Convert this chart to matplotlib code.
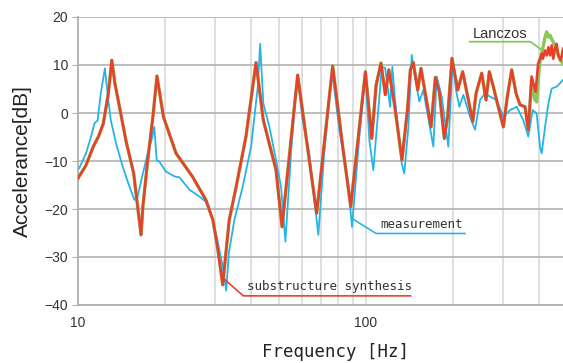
import matplotlib
matplotlib.use('agg')
import matplotlib.pyplot as plt
from matplotlib import font_manager
from matplotlib.ticker import FixedLocator, NullFormatter

# measured response
meas_f = [10.1, 10.66, 11.1, 11.4, 11.7, 12.0, 12.4, 12.7, 13.0, 13.55, 14.3, 15.1, 15.7, 16.1,
          16.8, 17.46, 18.07, 18.4, 18.76, 19.15, 20.2, 21.6, 22.5, 24.4, 26.4, 27.8, 29.4, 30.5,
          31.8, 32.7, 33.4, 34.9, 37.3, 39.9, 42.1, 42.9, 44.0, 46.2, 48.7, 50.7, 52.5, 54.9,
          57.1, 57.9, 60.3, 63.5, 68.3, 71.6, 76.2, 80.8, 86.4, 89.4, 94.8, 99.5, 102.7, 106.0,
          110.3, 113.4, 116.5, 121.2, 123.4, 126.1, 133.0, 135.8, 140.3, 144.1, 147.9, 153.1,
          158.1, 171.3, 176.0, 183.2, 193.1, 200.0, 205.3, 210.9, 217.8, 229.7, 239.0, 248.8,
          258.9, 269.6, 284.3, 299.7, 316.2, 333.6, 351.6, 366.0, 379.0, 391.3, 401.8, 407.4,
          418.4, 429.7, 441.4, 459.2, 471.6, 483.0]
meas_db = [-11.5, -8.4, -4.9, -2.2, -1.5, 4.1, 9.3, 3.4, -1.5, -6.3, -11.2, -15.4, -18.1, -17.4,
           -12.6, -8.4, -5.3, -2.9, -9.8, -10.1, -12.2, -13.2, -13.4, -16.0, -17.4, -18.5, -22.3,
           -26.5, -32.0, -37.0, -29.2, -22.3, -15.4, -7.0, 5.5, 14.4, 2.0, -2.9, -9.8, -15.4,
           -26.8, -8.4, 4.8, 7.6, -1.5, -8.4, -25.4, -8.4, 9.0, -3.5, -14.0, -23.7, -4.9, 8.3,
           -5.6, -11.9, 0.6, 9.6, 9.4, 1.3, 9.6, 2.7, -10.5, -12.6, -2.9, 12.1, 7.6, 2.4,
           4.8, -7.0, 7.6, 3.4, -7.0, 11.0, 4.8, 1.3, 3.8, -0.8, -3.5, 2.7,
           4.1, 3.4, 2.7, -0.8, 0.6, 1.3, -1.5, -4.9, 0.6, -0.1, -7.0, -8.4,
           -2.9, 2.0, 5.1, 5.5, 6.2, 6.9]

# substructure synthesis
syn_f = [10.0, 10.66, 11.3, 11.8, 12.24, 12.75, 13.1, 13.43, 14.0, 14.7, 15.6, 16.55,
         16.8, 17.46, 18.2, 18.8, 19.8, 21.9, 25.0, 27.8, 29.4, 30.5, 31.8, 33.5, 35.4, 38.3,
         41.5, 44.0, 48.7, 51.1, 57.9, 61.9, 67.4, 76.6, 83.0, 88.5, 99.5, 104.7, 108.4, 112.7,
         116.7, 120.0, 125.4, 133.3, 139.6, 142.5, 145.9, 151.2, 155.2, 168.2, 174.1, 179.7,
         187.0, 192.1, 198.8, 208.1, 216.6, 234.7, 241.0, 252.2, 261.0, 268.0, 276.7, 285.8,
         299.7, 309.5, 320.5, 331.8, 342.6, 356.5, 366.0, 375.8, 388.0, 396.0, 401.8, 407.4,
         411.0, 418.4, 424.0, 429.7, 435.6, 441.4, 447.0, 453.2, 459.0, 465.3, 475.3, 483.0]
syn_db = [-13.6, -10.9, -7.0, -4.8, -2.2, 4.1, 11.0, 6.2, 0.6, -6.0, -12.5, -25.4,
          -19.5, -9.8, -0.8, 7.7, -0.8, -8.4, -13.3, -18.1, -22.3, -27.9, -35.8, -22.3, -15.4, -4.9,
          10.5, -1.5, -11.9, -23.7, 7.9, -4.9, -20.9, 9.8, -7.0, -19.5, 8.6, -5.3, 5.8, 10.4,
          3.8, 9.0, 2.0, -9.8, 1.3, 9.0, 10.5, 4.8, 9.3, -2.9, 7.4, 4.4,
          -5.3, -0.8, 11.4, 4.8, 8.6, -1.8, 4.1, 8.3, 2.7, 8.6, 5.5, 2.0,
          -2.9, 3.4, 9.0, 4.1, 1.7, 1.3, -3.5, 7.6, 4.4, 10.3, 11.3, 12.4,
          11.3, 13.0, 12.0, 13.7, 12.0, 14.1, 11.3, 13.4, 14.4, 12.0, 11.0, 13.4]

# Lanczos
lan_f = syn_f[:syn_f.index(366.0) + 1] + [375.8, 384.0, 391.5, 399.9, 407.4, 418.4, 424.0,
                                          429.7, 435.6, 443.8, 453.2, 463.0, 471.6, 483.0]
lan_db = syn_db[:syn_f.index(366.0) + 1] + [7.0, 3.0, 2.3, 9.9, 12.4, 15.8, 16.9,
                                            15.8, 16.2, 15.1, 14.1, 12.4, 11.0, 10.3]

y_ticks = [-40, -30, -20, -10, 0, 10, 20]
y_labels = ['\u221240', '\u221230', '\u221220', '\u221210', '0', '10', '20']

names = {f.name for f in font_manager.fontManager.ttflist}
narrow = 'Liberation Sans Narrow' if 'Liberation Sans Narrow' in names else 'Liberation Sans'
mono = 'DejaVu Sans Mono'

fig = plt.figure(figsize=(5.63, 3.63), dpi=100)
ax = fig.add_axes([78 / 563, 1 - 305 / 363, 485 / 563, 288 / 363])

ax.plot(lan_f, lan_db, color='#8cc65a', lw=2.4, zorder=3)
ax.plot(meas_f, meas_db, color='#27b4e4', lw=1.3, zorder=4)
ax.plot(syn_f, syn_db, color='#e8402a', lw=1.9, zorder=5)

ax.set_xscale('log')
ax.set_xlim(10, 483)
ax.set_ylim(-40, 20)
ax.set_yticks(y_ticks)
ax.set_yticklabels(y_labels, family=narrow, fontsize=10, color='#333333')
ax.xaxis.set_major_locator(FixedLocator([10, 100]))
ax.xaxis.set_minor_locator(FixedLocator([20, 30, 40, 50, 60, 70, 80, 90, 200, 300, 400]))
ax.xaxis.set_minor_formatter(NullFormatter())
ax.set_xticklabels(['10', '100'], family=narrow, fontsize=10, color='#333333')
ax.tick_params(axis='x', which='both', length=0, pad=8)
ax.tick_params(axis='y', length=4, color='#b0b0b0', pad=3)

ax.grid(axis='y', color='#b8b8b8', lw=1.3)
ax.grid(axis='x', which='both', color='#dcdcdc', lw=1.3)
ax.set_axisbelow(True)
for s in ['top', 'right']:
    ax.spines[s].set_visible(False)
for s in ['left', 'bottom']:
    ax.spines[s].set_color('#b0b0b0')
    ax.spines[s].set_linewidth(1.3)

# callouts
ax.plot([229.3, 372.3, 408.0], [14.85, 14.85, 13.1], color='#8cc65a', lw=1.3, zorder=6)
ax.text(235, 16.4, 'Lanczos', family=narrow, fontsize=10.5, color='#333333', va='center')
ax.plot([89.1, 108.3, 220.4], [-21.9, -25.1, -25.1], color='#27b4e4', lw=1.2, zorder=6)
ax.text(111.8, -23.3, 'measurement', family=mono, fontsize=9, color='#333333', va='center')
ax.plot([31.9, 37.5, 142.8], [-34.4, -38.1, -38.1], color='#e8402a', lw=1.2, zorder=6)
ax.text(38.6, -36.1, 'substructure synthesis', family=mono, fontsize=9, color='#333333',
        va='center')

fig.text(22 / 563, 1 - 161 / 363, 'Accelerance[dB]', rotation=90, family=narrow,
         fontsize=15, color='#222222', ha='center', va='center')
fig.text(335 / 563, 1 - 352 / 363, 'Frequency [Hz]', family=mono, fontsize=12.5,
         color='#222222', ha='center', va='center')

fig.savefig('out.png', dpi=100)
